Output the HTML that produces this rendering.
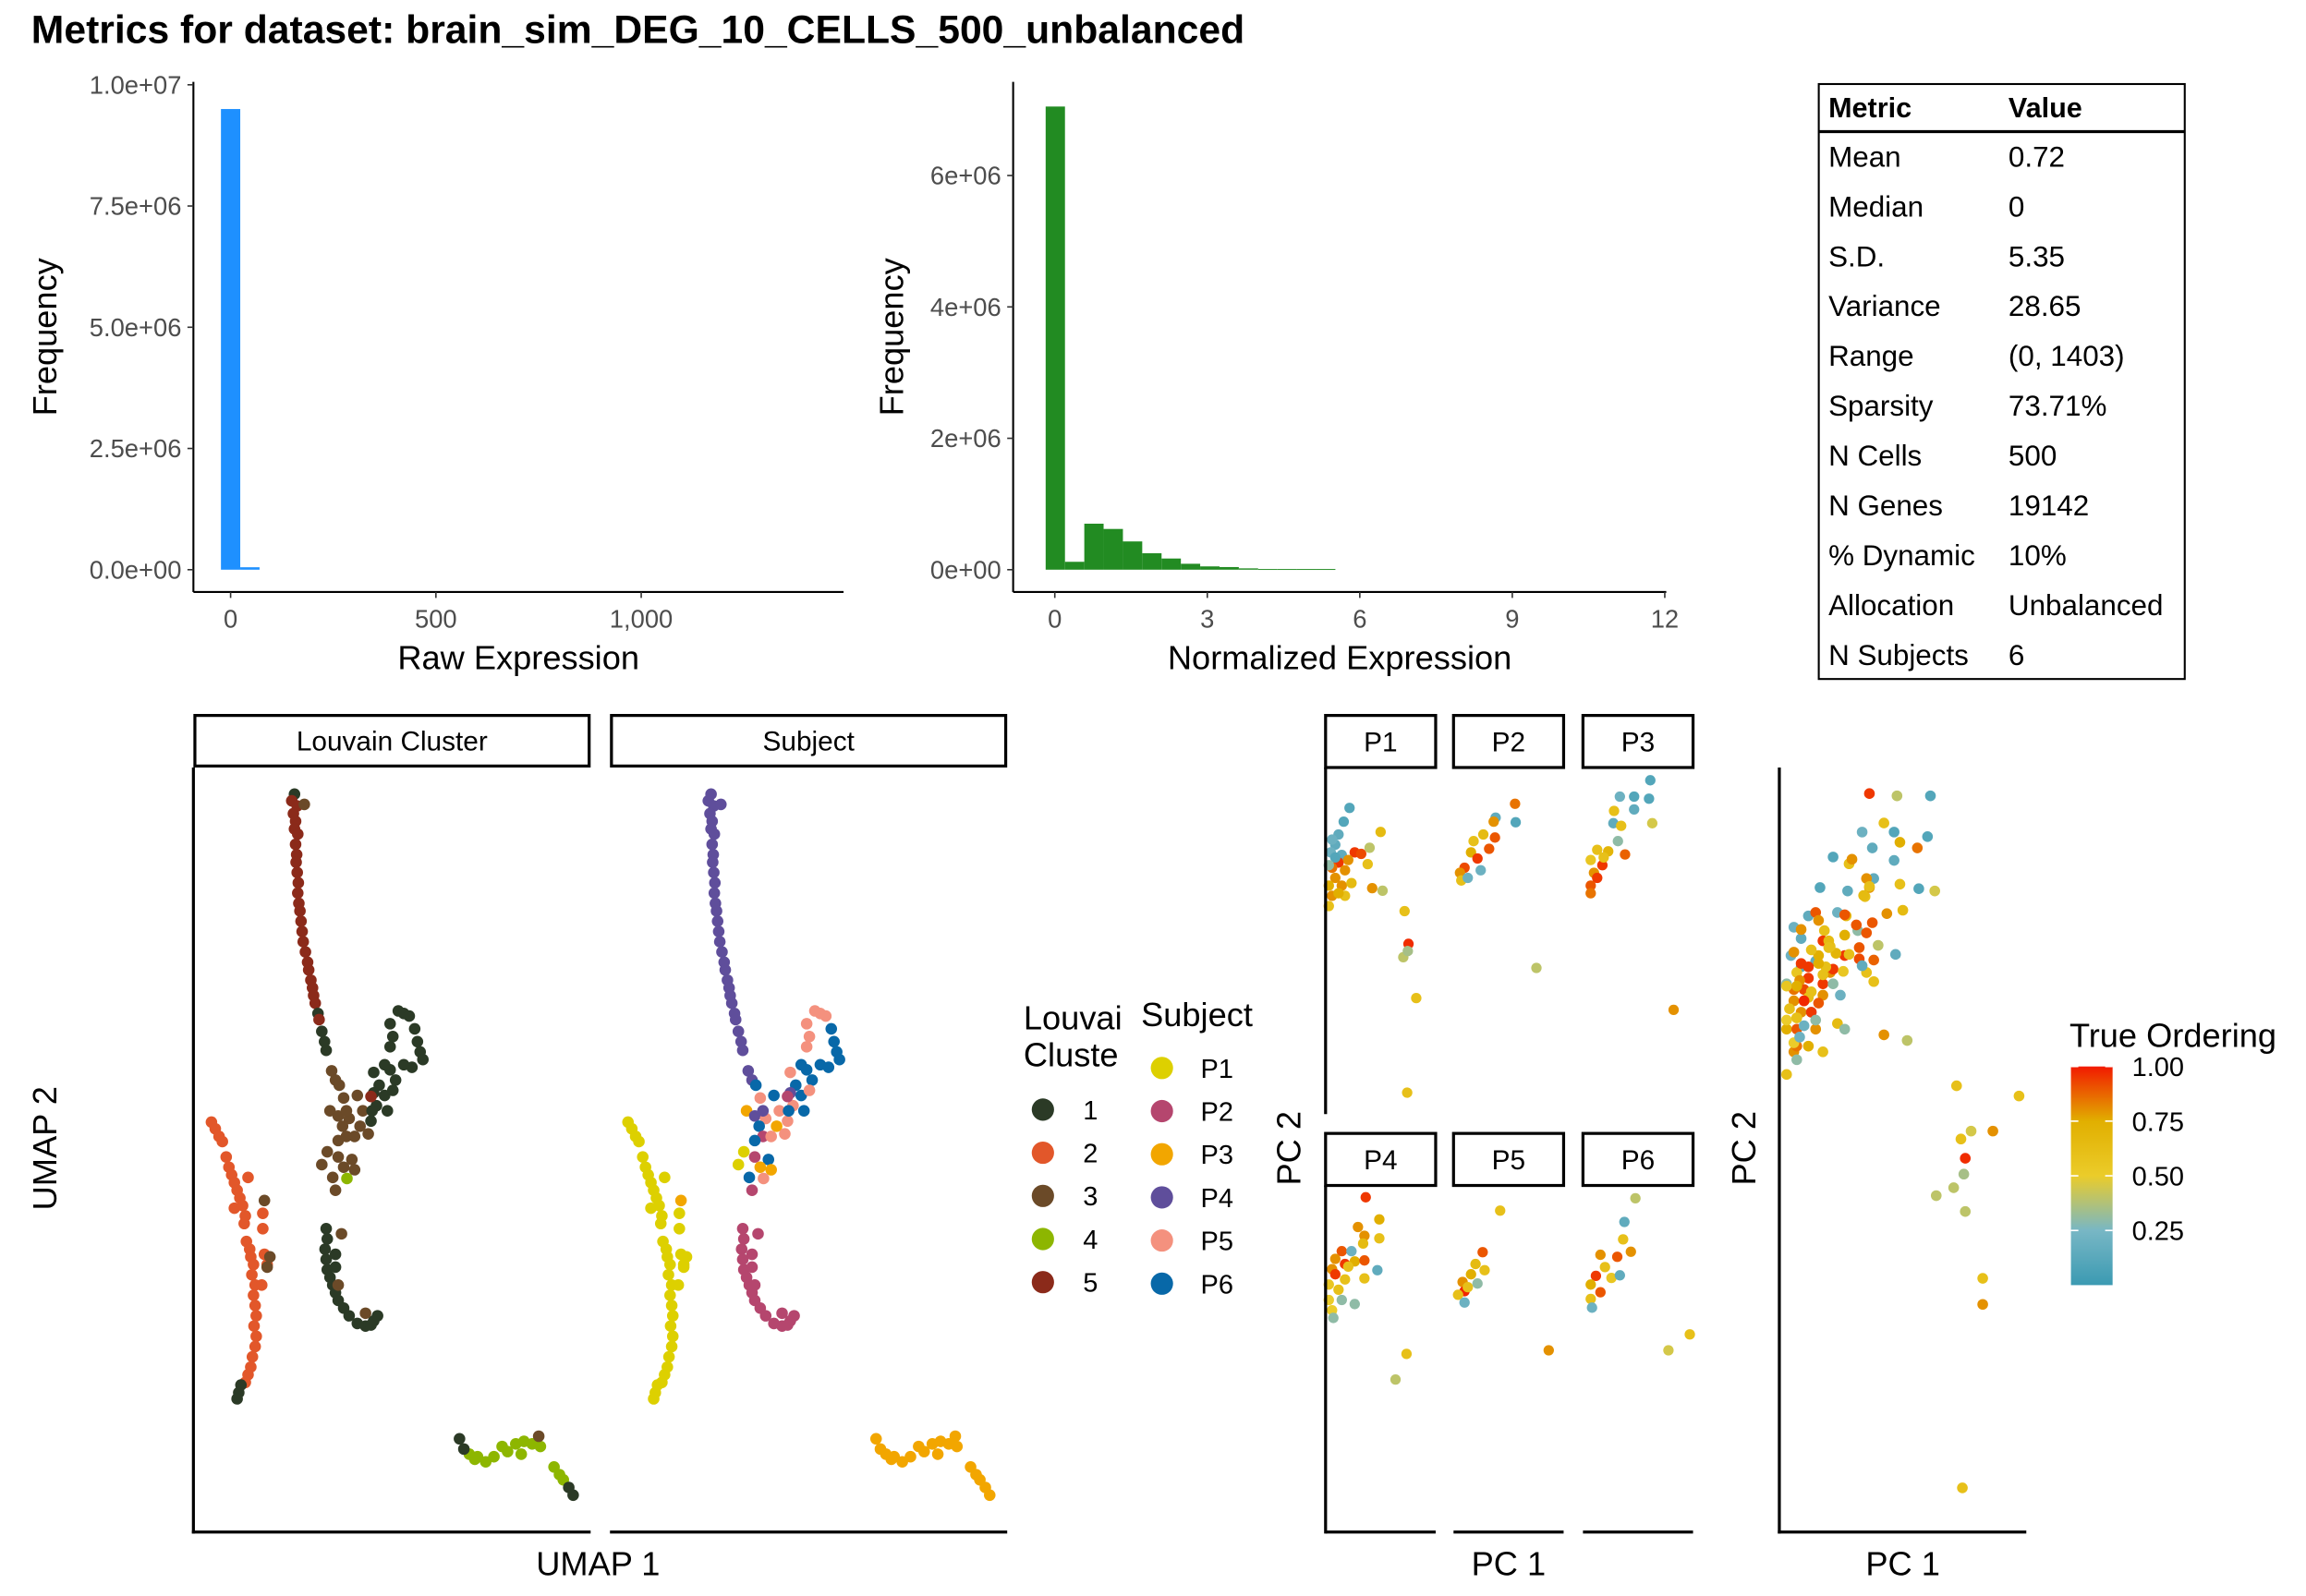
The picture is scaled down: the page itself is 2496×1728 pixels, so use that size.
<!DOCTYPE html>
<html><head><meta charset="utf-8"><style>
html,body{margin:0;padding:0;background:#fff;}
svg{display:block;font-family:"Liberation Sans",sans-serif;}
</style></head><body>
<svg id="fig" width="2496" height="1728" viewBox="0 0 1550 1073" preserveAspectRatio="none" xmlns="http://www.w3.org/2000/svg">
<text x="21" y="29" font-size="26.5" font-weight="bold">Metrics for dataset: brain_sim_DEG_10_CELLS_500_unbalanced</text>
<g id="hist1"></g>
<g id="hist2"></g>
<g id="table"></g>
<g id="umap"></g>
<g id="pca"></g>
</svg>
<script>
// ---------- histogram data ----------
const rawBinStart = [-23.5, 23.5];
const rawBinWidth = 47;
const rawCounts = [9.5e6, 0.05e6];
const rawYTicks = [0, 2.5e6, 5e6, 7.5e6, 1e7];
const rawYTickLabels = ["0.0e+00","2.5e+06","5.0e+06","7.5e+06","1.0e+07"];
const rawXTicks = [0, 500, 1000];
const rawXTickLabels = ["0","500","1,000"];

const normBinStart = [-0.18,0.2,0.58,0.96,1.34,1.72,2.1,2.48,2.86,3.24,3.62,4.0,4.38,4.76,5.14];
const normBinWidth = 0.38;
const normCounts = [7.05e6,0.12e6,0.7e6,0.62e6,0.43e6,0.25e6,0.17e6,0.09e6,0.05e6,0.04e6,0.02e6,0.01e6,0.01e6,0.01e6,0.01e6];
const normYTicks = [0, 2e6, 4e6, 6e6];
const normYTickLabels = ["0e+00","2e+06","4e+06","6e+06"];
const normXTicks = [0,3,6,9,12];
const normXTickLabels = ["0","3","6","9","12"];

// ---------- table ----------
const metricNames = ["Mean","Median","S.D.","Variance","Range","Sparsity","N Cells","N Genes","% Dynamic","Allocation","N Subjects"];
const metricValues = ["0.72","0","5.35","28.65","(0, 1403)","73.71%","500","19142","10%","Unbalanced","6"];

// ---------- UMAP data ----------
const umap1 = [18.5,18.0,19.0,18.3,18.7,18.5,19.1,18.7,18.9,18.8,19.0,19.2,19.1,19.3,19.5,19.7,19.9,20.1,20.5,20.9,21.1,21.5,21.8,22.0,22.3,22.8,23.0,20.3,23.5,24.0,24.3,
25.3,26.0,26.7,27.5,25.0,26.5,28.5,27.3,28.0,26.5,29.5,30.5,32.0,24.5,23.5,26.5,29.0,27.5,29.5,26.0,25.5,30.0,28.0,31.0,28.1,
33.0,34.0,35.0,35.5,36.0,37.0,36.5,37.5,38.5,39.5,36.0,36.5,36.0,40.5,41.0,41.5,42.0,40.0,38.5,33.0,33.5,32.5,32.7,35.0,32.5,
3.3,4.0,4.7,5.3,6.0,6.5,7.0,7.5,8.0,8.5,7.5,9.0,9.5,9.3,10.0,9.7,10.3,10.5,11.0,10.7,11.3,11.0,11.3,11.5,11.1,11.5,11.3,10.8,10.5,10.0,9.5,12.7,12.7,13.0,12.5,13.5,8.7,8.3,8.0,13.0,14.0,13.5,
24.3,24.5,24.1,24.3,26.0,24.5,26.0,25.0,25.5,26.0,26.5,27.5,28.5,30.0,31.5,33.0,33.7,32.5,27.1,26.5,31.5,
50.5,52.0,53.5,55.0,56.5,57.5,59.0,60.5,62.0,63.5,60.0,66.0,67.0,67.7,51.5,48.7,49.5,68.7,69.5,63.2];
const umap2 = [144.0,142.7,141.7,140.2,138.7,137.2,136.2,134.2,132.2,130.7,128.7,126.7,124.7,122.7,121.2,119.2,117.2,115.2,113.2,111.2,109.7,107.7,106.2,104.7,103.2,101.2,100.0,142.0,97.7,95.7,94.0,
90.0,88.2,87.2,84.7,82.2,81.2,80.7,79.2,77.2,76.4,77.2,79.2,77.7,74.2,71.7,73.2,72.7,71.2,70.7,66.7,69.2,85.2,82.2,82.2,69.0,
89.7,87.2,85.2,82.2,90.2,88.2,86.2,101.7,101.2,100.7,99.2,96.7,94.7,98.2,95.7,93.7,92.2,90.7,91.2,85.7,83.2,80.2,82.2,91.2,85.0,
80.0,78.7,77.2,76.2,73.2,71.2,69.7,68.2,66.7,65.2,63.2,63.7,61.7,60.2,69.2,56.7,55.2,53.7,52.2,50.2,48.2,46.2,44.2,42.2,40.2,38.2,36.2,34.2,32.2,30.7,29.2,62.2,59.2,54.2,48.2,52.2,28.7,27.2,26.0,64.7,53.7,51.7,
59.2,57.2,55.2,53.2,54.2,51.2,51.7,49.7,48.2,46.7,45.2,43.7,42.2,40.7,40.2,41.2,42.2,40.4,58.2,48.2,42.7,
15.2,14.7,13.7,14.7,16.7,15.7,17.2,17.7,17.2,16.7,15.2,12.7,11.2,10.2,14.2,18.2,16.2,8.7,7.2,18.7];
const umapCluster = [1,5,5,5,5,5,5,5,5,5,5,5,5,5,5,5,5,5,5,5,5,5,5,5,5,1,5,3,1,1,1,
3,3,3,3,3,3,3,3,3,3,3,3,3,3,3,3,3,3,3,3,3,3,3,3,4,
1,1,1,1,1,1,1,1,1,1,1,1,1,1,1,1,1,1,1,1,1,1,1,1,5,
2,2,2,2,2,2,2,2,2,2,2,2,2,2,2,2,2,2,2,2,2,2,2,2,2,2,2,2,2,2,2,2,2,2,2,2,1,1,1,3,3,3,
1,1,1,1,1,1,1,1,1,1,1,1,1,1,1,1,1,1,3,3,3,
4,4,4,4,4,4,4,4,4,4,4,4,4,4,4,1,1,1,1,3];
const umapSubject = [4,4,4,4,4,4,4,4,4,4,4,4,4,4,4,4,4,4,4,4,4,4,4,4,4,4,4,4,4,4,4,
4,4,6,5,3,4,5,6,2,6,5,3,5,1,1,2,6,3,3,2,6,6,4,5,5,
5,6,6,6,6,6,5,5,5,5,5,5,5,6,6,6,6,6,6,4,5,5,6,6,2,
1,1,1,1,1,1,1,1,1,1,1,1,1,1,1,1,1,1,1,1,1,1,1,1,1,1,1,1,1,1,1,1,1,1,1,1,1,1,1,3,1,1,
2,2,2,2,2,2,2,2,2,2,2,2,2,2,2,2,2,2,2,2,2,
3,3,3,3,3,3,3,3,3,3,3,3,3,3,3,3,3,3,3,3];
const clusterLabels = ["1","2","3","4","5"];
const subjectLabels = ["P1","P2","P3","P4","P5","P6"];

// ---------- PCA data ----------
const pc1 = [3.7,2.8,2.0,1.5,0.8,2.5,4.5,5.5,2.0,1.0,3.0,1.5,0.5,2.5,4.0,1.0,3.0,0.5,6.5,6.8,8.5,7.2,8.8,12.2,12.8,12.0,12.7,14.0,12.6,1.5,3.5,2.0,1.0,0.5,
9.5,6.5,9.6,6.2,4.6,3.1,6.4,5.5,2.7,3.7,1.7,1.0,1.2,4.2,2.2,12.8,
10.4,5.7,7.9,10.2,7.9,4.8,4.7,5.9,10.7,5.4,2.2,3.9,6.5,1.2,3.0,1.7,2.2,1.2,1.2,14.0,3.2,
6.2,5.0,8.3,6.0,5.8,8.3,2.5,4.0,1.5,3.0,4.5,6.0,1.0,1.5,3.0,6.0,8.0,0.5,2.0,0.5,2.5,4.5,1.0,1.2,12.5,10.8,3.5,
7.2,4.5,3.4,4.8,2.7,1.4,3.7,1.7,0.7,1.7,14.7,2.2,
8.1,6.4,6.2,7.4,2.7,5.3,3.4,2.0,4.4,5.7,1.2,2.7,1.2,1.4,13.2,16.5];
const pc2 = [59.6,56.9,54.4,52.4,50.9,50.4,50.9,50.6,48.9,47.9,47.4,45.9,44.4,44.4,44.9,42.4,42.4,40.4,48.6,51.8,54.9,43.9,43.4,39.4,33.0,30.4,31.6,22.4,3.9,49.9,49.4,42.9,53.4,48.4,
60.4,57.7,56.8,56.9,54.4,53.1,53.8,51.6,50.9,49.7,47.9,46.9,45.4,47.4,45.9,28.3,
65.0,61.8,61.8,61.4,59.3,59.0,56.6,56.1,56.6,53.1,51.4,51.1,50.5,49.4,48.4,46.9,45.9,44.4,42.9,20.1,49.9,
65.2,59.4,60.9,57.7,56.2,57.2,54.7,54.7,53.2,52.2,52.7,52.9,51.2,50.2,49.2,49.4,51.0,48.2,47.2,45.2,45.2,44.4,43.2,41.7,34.7,29.7,51.7,
62.6,54.5,52.2,51.0,50.2,48.7,48.4,46.9,46.2,44.7,35.4,47.7,
65.0,60.4,57.0,54.6,54.0,53.6,51.6,49.9,49.5,50.0,48.2,46.7,45.4,43.7,35.4,38.5];
const pcOrder = [0.1,0.1,0.15,0.15,0.2,0.15,0.95,0.92,0.95,0.85,0.8,0.8,0.75,0.8,0.65,0.8,0.6,0.6,0.6,0.4,0.65,0.8,0.4,0.6,0.97,0.4,0.35,0.6,0.6,0.1,0.8,0.75,0.2,0.3,
0.85,0.15,0.1,0.8,0.65,0.6,0.9,0.9,0.75,0.95,0.92,0.8,0.6,0.2,0.2,0.4,
0.1,0.2,0.1,0.1,0.15,0.6,0.15,0.6,0.45,0.3,0.6,0.7,0.88,0.55,0.95,0.8,0.95,0.9,0.85,0.8,0.6,
0.95,0.8,0.75,0.8,0.65,0.6,0.9,0.2,0.8,0.95,0.75,0.9,0.8,0.95,0.6,0.6,0.15,0.55,0.6,0.5,0.3,0.3,0.5,0.3,0.6,0.4,0.6,
0.6,0.9,0.65,0.6,0.75,0.8,0.3,0.98,0.6,0.2,0.8,0.6,
0.4,0.15,0.6,0.8,0.8,0.9,0.6,0.95,0.55,0.15,0.75,0.9,0.6,0.2,0.45,0.6];
const pcSubject = [].concat(Array(34).fill(1),Array(16).fill(2),Array(21).fill(3),Array(27).fill(4),Array(12).fill(5),Array(16).fill(6));
const orderTicks = [0.25,0.5,0.75,1.0];
const orderTickLabels = ["0.25","0.50","0.75","1.00"];

// ---------- helpers ----------
const NS = "http://www.w3.org/2000/svg";
function mk(parent, tag, attrs, text){
  const e = document.createElementNS(NS, tag);
  for (const k in attrs) e.setAttribute(k, attrs[k]);
  if (text !== undefined) e.textContent = text;
  parent.appendChild(e);
  return e;
}
function lin(d0,d1,r0,r1){ return v => r0 + (v-d0)/(d1-d0)*(r1-r0); }
const clusterColors = ["#2B3A26","#E2572A","#6B4A28","#8DB600","#8B2A1A"];
const subjectColors = ["#DDD000","#B5466E","#F2A600","#5F4E9B","#F4917E","#0868A8"];
const zstops = [[0,[59,154,178]],[0.25,[120,183,197]],[0.5,[235,204,42]],[0.75,[225,175,0]],[1,[242,26,0]]];
function zissou(v){
  v = Math.max(0,Math.min(1,v));
  for (let i=0;i<zstops.length-1;i++){
    const a=zstops[i], b=zstops[i+1];
    if (v<=b[0]){ const t=(v-a[0])/(b[0]-a[0]);
      const c=a[1].map((x,j)=>Math.round(x+(b[1][j]-x)*t)); return `rgb(${c[0]},${c[1]},${c[2]})`; }
  }
  return "rgb(242,26,0)";
}

// ---------- histograms ----------
function histogram(gid, cfg){
  const g = document.getElementById(gid);
  const xs = lin(cfg.xd[0],cfg.xd[1],cfg.xr[0],cfg.xr[1]);
  const ys = lin(0,cfg.yd,cfg.y0,cfg.yTop);
  cfg.counts.forEach((c,i)=>{
    const x0 = xs(cfg.starts[i]), x1 = xs(cfg.starts[i]+cfg.bw);
    const r = mk(g,"rect",{x:x0,y:ys(c),width:x1-x0,height:Math.max(0.6,cfg.y0-ys(c)),fill:cfg.color});
    
    
  });
  mk(g,"line",{x1:cfg.ax,y1:cfg.axTop,x2:cfg.ax,y2:cfg.axY,stroke:"#000","stroke-width":1.3});
  mk(g,"line",{x1:cfg.ax,y1:cfg.axY,x2:cfg.axRight,y2:cfg.axY,stroke:"#000","stroke-width":1.3});
  cfg.yticks.forEach((t,i)=>{
    const y=ys(t);
    mk(g,"line",{x1:cfg.ax-4,y1:y,x2:cfg.ax,y2:y,stroke:"#333","stroke-width":1});
    const tl = mk(g,"text",{x:cfg.ax-8,y:y+6,"text-anchor":"end","font-size":17,fill:"#4d4d4d"},cfg.ylabels[i]);
    
    
  });
  cfg.xticks.forEach((t,i)=>{
    const x=xs(t);
    mk(g,"line",{x1:x,y1:cfg.axY,x2:x,y2:cfg.axY+4,stroke:"#333","stroke-width":1});
    const tl = mk(g,"text",{x:x,y:cfg.axY+24,"text-anchor":"middle","font-size":17,fill:"#4d4d4d"},cfg.xlabels[i]);
    
    
  });
  const yt = mk(g,"text",{x:0,y:0,transform:`translate(${cfg.ytx},${(cfg.axTop+cfg.axY)/2}) rotate(-90)`,"text-anchor":"middle","font-size":22.5},"Frequency");
  
  
  const xt = mk(g,"text",{x:(cfg.ax+cfg.axRight)/2,y:cfg.axY+52,"text-anchor":"middle","font-size":22.5},cfg.xtitle);
  
  
}
histogram("hist1",{xd:[0,1000],xr:[155,431],yd:1e7,y0:383,yTop:57,starts:rawBinStart,bw:rawBinWidth,counts:rawCounts,color:"#1E90FF",
  ax:130,axTop:55,axY:398,axRight:567,yticks:rawYTicks,ylabels:rawYTickLabels,xticks:rawXTicks,xlabels:rawXTickLabels,ytx:38,xtitle:"Raw Expression"});
histogram("hist2",{xd:[0,12],xr:[709,1119],yd:6e6,y0:383,yTop:118,starts:normBinStart,bw:normBinWidth,counts:normCounts,color:"#228B22",
  ax:681,axTop:55,axY:398,axRight:1120,yticks:normYTicks,ylabels:normYTickLabels,xticks:normXTicks,xlabels:normXTickLabels,ytx:607,xtitle:"Normalized Expression"});

// ---------- table ----------
(function(){
  const g = document.getElementById("table");
  mk(g,"rect",{x:1222.5,y:56.5,width:246,height:400,fill:"none",stroke:"#000","stroke-width":1.3});
  mk(g,"line",{x1:1222.5,y1:88.5,x2:1468.5,y2:88.5,stroke:"#000","stroke-width":2});
  const h1 = mk(g,"text",{x:1229,y:79,"font-size":19,"font-weight":"bold"},"Metric");
  
  
  const h2 = mk(g,"text",{x:1350,y:79,"font-size":19,"font-weight":"bold"},"Value");
  
  
  metricNames.forEach((n,i)=>{
    const y = 112 + i*33.5;
    const a = mk(g,"text",{x:1229,y:y,"font-size":19.5},n);
    
    
    const b = mk(g,"text",{x:1350,y:y,"font-size":19.5},metricValues[i]);
    
    
  });
})();

function strip(g,x,y,w,h,label){
  const s = mk(g,"g",{});
  
  
  mk(s,"rect",{x:x,y:y,width:w,height:h,fill:"#fff",stroke:"#000","stroke-width":2});
  mk(s,"text",{x:x+w/2,y:y+h/2+6.5,"text-anchor":"middle","font-size":18.5},label);
}

// ---------- UMAP ----------
(function(){
  const g = document.getElementById("umap");
  strip(g,131,481,265,34,"Louvain Cluster");
  strip(g,411,481,265,34,"Subject");
  const ys = lin(0,149.2,1030,516);
  [[130,"cluster"],[410,"subject"]].forEach(([x0,mode])=>{
    const xs = lin(0,72.7,x0,x0+267);
    umap1.forEach((v,i)=>{
      const col = mode==="cluster" ? clusterColors[umapCluster[i]-1] : subjectColors[umapSubject[i]-1];
      const c = mk(g,"circle",{cx:xs(v),cy:ys(umap2[i]),r:3.9,fill:col});
      
      
    });
  });
  mk(g,"line",{x1:130,y1:516,x2:130,y2:1031,stroke:"#000","stroke-width":2});
  mk(g,"line",{x1:129,y1:1030,x2:397,y2:1030,stroke:"#000","stroke-width":2});
  mk(g,"line",{x1:410,y1:1030,x2:677,y2:1030,stroke:"#000","stroke-width":2});
  const yt = mk(g,"text",{transform:"translate(38,772) rotate(-90)","text-anchor":"middle","font-size":22.5},"UMAP 2");
  
  
  const xt = mk(g,"text",{x:402,y:1059,"text-anchor":"middle","font-size":22.5},"UMAP 1");
  
  
  // legends
  const l1 = mk(g,"g",{});
  
  
  mk(l1,"text",{x:688,y:692,"font-size":22.5},"Louvai");
  mk(l1,"text",{x:688,y:717,"font-size":22.5},"Cluste");
  clusterLabels.forEach((lab,i)=>{
    const y = 746 + i*29;
    const e = mk(l1,"g",{});
    
    
    mk(e,"circle",{cx:701,cy:y,r:7.5,fill:clusterColors[i]});
    mk(e,"text",{x:728,y:y+6.5,"font-size":18},lab);
  });
  const l2 = mk(g,"g",{});
  
  
  mk(l2,"text",{x:767,y:690,"font-size":22.5},"Subject");
  subjectLabels.forEach((lab,i)=>{
    const y = 718 + i*29;
    const e = mk(l2,"g",{});
    
    
    mk(e,"circle",{cx:781,cy:y,r:7.5,fill:subjectColors[i]});
    mk(e,"text",{x:807,y:y+6.5,"font-size":18},lab);
  });
})();

// ---------- PCA ----------
(function(){
  const g = document.getElementById("pca");
  const colsX = [891,977,1064], W = 74;
  const rows = [[516,748],[797,1030]];
  subjectLabels.forEach((lab,s)=>{
    const col = s%3, row = Math.floor(s/3);
    const x0 = colsX[col];
    strip(g,x0,row===0?481:762,W,35,lab);
    const xs = lin(0,17,x0,x0+W);
    const ys = lin(0,67.5,rows[row][1],rows[row][0]);
    pc1.forEach((v,i)=>{
      if (pcSubject[i]!==s+1) return;
      const c = mk(g,"circle",{cx:xs(v),cy:ys(pc2[i]),r:3.5,fill:zissou(pcOrder[i])});
      
      
    });
    if (col===0) mk(g,"line",{x1:891,y1:rows[row][0],x2:891,y2:rows[row][1]+1,stroke:"#000","stroke-width":2});
    if (row===1) mk(g,"line",{x1:x0,y1:1030,x2:x0+W,y2:1030,stroke:"#000","stroke-width":2});
  });
  const yt = mk(g,"text",{transform:"translate(874,772) rotate(-90)","text-anchor":"middle","font-size":22.5},"PC 2");
  
  
  const xt = mk(g,"text",{x:1014,y:1059,"text-anchor":"middle","font-size":22.5},"PC 1");
  
  

  // combined panel
  const bx = lin(0,17,1196,1362), by = lin(0,67.5,1030,516);
  pc1.forEach((v,i)=>{
    const c = mk(g,"circle",{cx:bx(v),cy:by(pc2[i]),r:3.6,fill:zissou(pcOrder[i])});
    
    
  });
  mk(g,"line",{x1:1196,y1:516,x2:1196,y2:1031,stroke:"#000","stroke-width":2});
  mk(g,"line",{x1:1195,y1:1030,x2:1362,y2:1030,stroke:"#000","stroke-width":2});
  const yt2 = mk(g,"text",{transform:"translate(1180,772) rotate(-90)","text-anchor":"middle","font-size":22.5},"PC 2");
  
  
  const xt2 = mk(g,"text",{x:1279,y:1059,"text-anchor":"middle","font-size":22.5},"PC 1");
  
  

  // colorbar
  const cb = mk(g,"g",{});
  
  
  const defs = mk(cb,"defs",{});
  const grad = mk(defs,"linearGradient",{id:"zg",x1:0,y1:1,x2:0,y2:0});
  zstops.forEach(st=>mk(grad,"stop",{offset:st[0],"stop-color":`rgb(${st[1].join(",")})`}));
  const cy = lin(0,1,864,717);
  mk(cb,"rect",{x:1392,y:cy(1),width:28,height:cy(0)-cy(1),fill:"url(#zg)"});
  mk(cb,"text",{x:1391,y:704,"font-size":22.5},"True Ordering");
  orderTicks.forEach((t,i)=>{
    const y = cy(t);
    mk(cb,"line",{x1:1392,y1:y,x2:1397,y2:y,stroke:"#fff","stroke-width":1});
    mk(cb,"line",{x1:1415,y1:y,x2:1420,y2:y,stroke:"#fff","stroke-width":1});
    const tl = mk(cb,"text",{x:1433,y:y+6.5,"font-size":18},orderTickLabels[i]);
    
    
  });
})();
</script>
</body></html>
